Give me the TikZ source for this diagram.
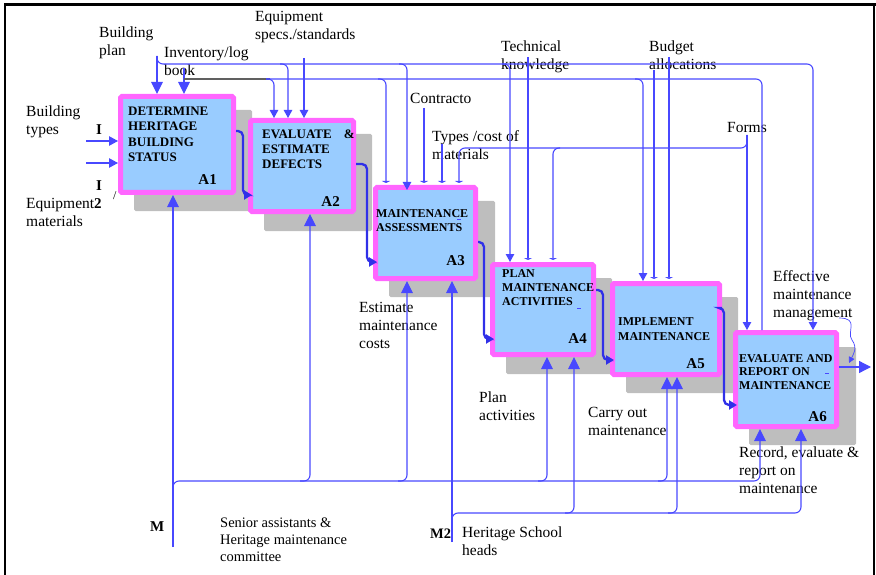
\documentclass[tikz,border=0pt]{standalone}
\usepackage{fontspec}
\setmainfont{Liberation Serif}
\usetikzlibrary{arrows.meta}
\definecolor{pinkb}{HTML}{FF66FF}
\definecolor{boxfill}{HTML}{99CCFF}
\definecolor{lnc}{HTML}{4848FF}
\definecolor{thkc}{HTML}{3030E8}
\definecolor{shad}{HTML}{BEBEBE}
\begin{document}
\begin{tikzpicture}[x=1pt,y=-1pt,
  box/.style={draw=pinkb, fill=boxfill, line width=5pt, rounded corners=1.5pt, inner sep=0pt},
  shadowbox/.style={fill=shad, rounded corners=1.5pt},
  lbl/.style={font=\fontsize{15.5}{18}\selectfont, align=left, anchor=base west, inner sep=0pt},
  lbls/.style={font=\fontsize{14.5}{17}\selectfont, align=left, anchor=base west, inner sep=0pt},
  bl/.style={font=\bfseries\fontsize{15}{18}\selectfont, anchor=base west, inner sep=0pt},
  ttla/.style={font=\bfseries\fontsize{13}{15.6}\selectfont, align=left, anchor=base west, inner sep=0pt},
  ttlb/.style={font=\bfseries\fontsize{12}{14}\selectfont, align=left, anchor=base west, inner sep=0pt},
  anum/.style={font=\bfseries\fontsize{15}{18}\selectfont, anchor=base east, inner sep=0pt},
  ln/.style={draw=lnc, line width=1.1pt},
  rc/.style={rounded corners=6pt},
  arrb/.style={-{Triangle[length=12pt,width=11.5pt]}},
  arrs/.style={-{Triangle[length=8pt,width=8.5pt]}},
  arrm/.style={-{Triangle[length=9pt,width=9.5pt]}},
  bartip/.style={-{Triangle[length=2pt,width=8pt]}, shorten >=2pt},
  thk/.style={draw=thkc, line width=2.3pt, rounded corners=5pt, -{Triangle[length=8pt,width=9pt]}},
  dashmark/.style={draw=lnc, line width=1pt}
]
\useasboundingbox (0,0) rectangle (876,575);
% frame
\draw[line width=3pt] (4,5) -- (876,5);
\draw[line width=1.5pt] (5,4) -- (5,575);
\draw[line width=1.5pt] (874,4) -- (874,575);

% shadows
\fill[shadowbox] (134,110) rectangle (252,211);
\fill[shadowbox] (264,134) rectangle (372,231);
\fill[shadowbox] (389,201) rectangle (495,297);
\fill[shadowbox] (506,278) rectangle (612,374);
\fill[shadowbox] (626,297) rectangle (738,393);
\fill[shadowbox] (749,347) rectangle (856,445);

% boxes
\node[box, minimum width=113pt, minimum height=96pt] (A1) at (177,144.5) {};
\node[box, minimum width=103pt, minimum height=91pt] (A2) at (302,166) {};
\node[box, minimum width=100pt, minimum height=91pt] (A3) at (425.5,233) {};
\node[box, minimum width=101pt, minimum height=90pt] (A4) at (543,309.5) {};
\node[box, minimum width=107pt, minimum height=91pt] (A5) at (666,329) {};
\node[box, minimum width=101pt, minimum height=94pt] (A6) at (786,379.5) {};

% box titles (anchor = baseline of last line)
\node[ttla] (t1) at (128,161.8) {DETERMINE\\HERITAGE\\BUILDING\\STATUS};
\node[ttla, font=\bfseries\fontsize{13}{15}\selectfont] (t2) at (262,168) {EVALUATE\hspace*{12pt}\&\\ESTIMATE\\DEFECTS};
\node[ttlb] (t3) at (376,231) {MAINTENANCE\\ASSESSMENTS};
\node[ttlb] (t4) at (502,305) {PLAN\\MAINTENANCE\\ACTIVITIES};
\node[ttlb, font=\bfseries\fontsize{12}{15}\selectfont] (t5) at (618,340) {IMPLEMENT\\MAINTENANCE};
\node[ttlb, font=\bfseries\fontsize{12}{13.6}\selectfont] (t6) at (739,389.2) {EVALUATE AND\\REPORT ON\\MAINTENANCE};
\node[anum] (n1) at (217,185) {A1};
\node[anum] (n2) at (340,207) {A2};
\node[anum] (n3) at (465,265) {A3};
\node[anum] (n4) at (587,343) {A4};
\node[anum] (n5) at (705,368) {A5};
\node[anum] (n6) at (827,421) {A6};
\draw[dashmark] (457,219) -- (461,219);
\draw[dashmark] (577,308) -- (581,308);
\draw[dashmark] (825,373) -- (829,373);

% labels (anchor = baseline of last line)
\node[lbl] (bplan) at (99,55.5) {Building\\plan};
\node[lbl] (inv) at (164,75.5) {Inventory/log\\book};
\node[lbl] (espec) at (255,39.5) {Equipment\\specs./standards};
\node[lbl] (btypes) at (26,134.5) {Building\\types};
\node[lbl] (emat) at (26,226) {Equipment\\materials};
\node[bl] (I1) at (96,135) {I};
\node[bl] (I2) at (96,190) {I};
\node[bl] (I2b) at (94,208) {2};
\node[lbl, font=\fontsize{12}{14}\selectfont] (slash) at (113,200) {/};
\node[lbl] (contr) at (410,104) {Contracto};
\node[lbl] (types) at (432,160) {Types /cost of\\materials};
\node[lbl] (tech) at (501,69.5) {Technical\\knowledge};
\node[lbl] (budget) at (649,69.5) {Budget\\allocations};
\node[lbl] (forms) at (727,133) {Forms};
\node[lbl] (eff) at (773,317) {Effective\\maintenance\\management};
\node[lbl] (est) at (359,348) {Estimate\\maintenance\\costs};
\node[lbl] (plan) at (479,420) {Plan\\activities};
\node[lbl] (carry) at (588,435) {Carry out\\maintenance};
\node[lbl] (rec) at (739,493) {Record, evaluate \&\\report on\\maintenance};
\node[bl] (M) at (150,531) {M};
\node[lbls] (senior) at (220,561) {Senior assistants \&\\Heritage maintenance\\committee};
\node[bl, font=\bfseries\fontsize{14.5}{18}\selectfont] (M2) at (430,538) {M2};
\node[lbl] (heads) at (462,555) {Heritage School\\heads};

% inputs
\coordinate (in1) at (86,141);
\coordinate (in2) at (86,163);
\draw[ln, arrm] (in1) -- (in1 -| A1.west);
\draw[ln, arrm] (in2) -- (in2 -| A1.west);

% Building plan line (y=64)
\coordinate (bp) at (157,56);
\draw[ln, arrb] (bp) -- (bp |- A1.north);
\draw[ln, rc, arrs] (bp) |- (813,64) -- (813,0 |- A6.north);
\draw[ln, rc, arrs] (280,64) -| (288,0 |- A2.north);
\draw[ln, rc, arrs, shorten >=-5pt] (399,64) -| (407,0 |- A3.north);
\draw[ln, rc, arrs] (502,64) -| (510,0 |- A4.north);

% Inventory/log book line (y=79)
\coordinate (iv) at (184,68);
\draw[ln, arrb] (iv) -- (iv |- A1.north);
\draw[draw=gray!75!black, line width=1.1pt] (184,79) -- (270,79);
\draw[ln, rc, arrs] (266,79) -| (274,0 |- A2.north);
\draw[ln, rc] (266,79) -| (762,0 |- A6.north);
\draw[ln, rc, bartip] (378,79) -| (386,0 |- A3.north);
\draw[ln, rc, arrs] (635,79) -| (643,0 |- A5.north);

% Equipment specs
\coordinate (es) at (304,58);
\draw[ln, arrs] (es) -- (es |- A2.north);
% Contracto, Types/cost
\coordinate (ct) at (424,108);
\draw[ln, bartip] (ct) -- (ct |- A3.north);
\coordinate (tc) at (442,144);
\draw[ln, bartip] (tc) -- (tc |- A3.north);
% Forms
\coordinate (fm) at (747,135);
\draw[ln, arrs] (fm) -- (fm |- A6.north);
\draw[ln, rc, bartip] (fm) |- (459,148) -- (459,0 |- A3.north);
\draw[ln, rc, bartip] (560,148) -| (553,0 |- A4.north);
% Technical knowledge
\coordinate (tk) at (528,57);
\draw[ln, bartip] (tk) -- (tk |- A4.north);
% Budget allocations
\coordinate (ba1) at (654,70);
\coordinate (ba2) at (669,57);
\draw[ln, bartip] (ba1) -- (ba1 |- A5.north);
\draw[ln, bartip] (ba2) -- (ba2 |- A5.north);

% Mechanism M
\coordinate (mb) at (173,547);
\draw[ln, arrb] (mb) -- (mb |- A1.south);
\draw[ln, rc, arrb] (173,490) |- (760,481) -- (760,0 |- A6.south);
\draw[ln, rc, arrb] (300,481) -| (310,0 |- A2.south);
\draw[ln, rc, arrb] (398,481) -| (407,0 |- A3.south);
\draw[ln, rc, arrb] (538,481) -| (547,0 |- A4.south);
\draw[ln, rc, arrb] (658,481) -| (667,0 |- A5.south);
% Mechanism M2
\coordinate (m2b) at (452,542);
\draw[ln, arrb] (m2b) -- (m2b |- A3.south);
\draw[ln, rc, arrb] (452,520) |- (801,513) -- (801,0 |- A6.south);
\draw[ln, rc, arrb] (565,513) -| (574,0 |- A4.south);
\draw[ln, rc, arrb] (668,513) -| (677,0 |- A5.south);

% activity-to-activity arrows
\draw[thk] (A1.east |- 0,131) -| (243,195) -- ([xshift=4pt]A2.west |- 0,195);
\draw[thk] (A2.east |- 0,164) -| (367,262) -- ([xshift=4pt]A3.west |- 0,262);
\draw[thk] (A3.east |- 0,242) -| (484,339) -- ([xshift=4pt]A4.west |- 0,339);
\draw[thk] (A4.east |- 0,290) -| (603,360) -- ([xshift=4pt]A5.west |- 0,360);
\draw[thk] (A5.east |- 0,308) -| (724,405) -- ([xshift=4pt]A6.west |- 0,405);

% output
\coordinate (outp) at (871,367);
\draw[draw=lnc, line width=1.3pt, -{Triangle[length=12pt,width=12pt]}] (A6.east |- outp) -- (outp);
\draw[draw=lnc, line width=0.7pt, -{Triangle[length=6pt,width=6pt]}] (839,318) .. controls (860,318) and (846,332) .. (852,340) .. controls (858,348) and (853,355) .. (849,363);
\end{tikzpicture}
\end{document}
